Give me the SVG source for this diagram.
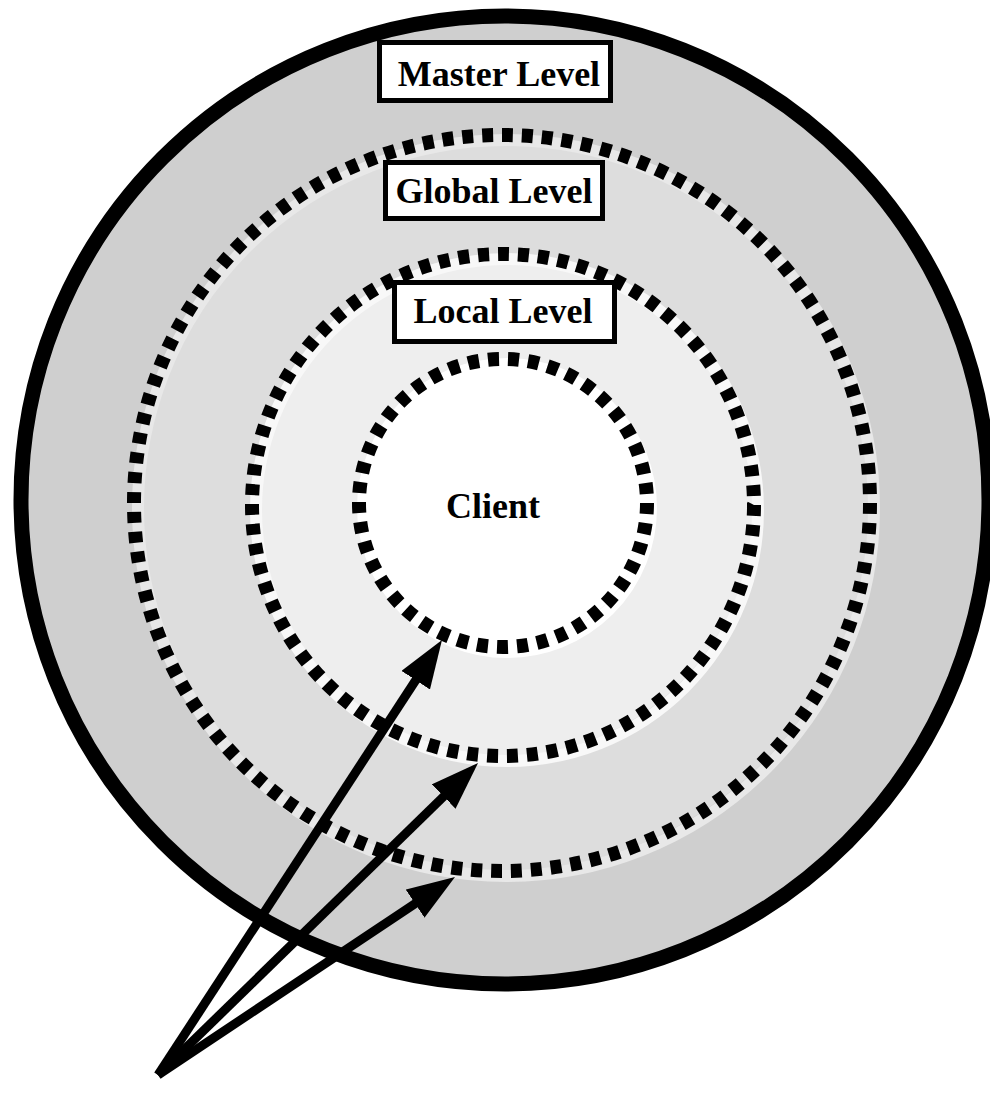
<svg xmlns="http://www.w3.org/2000/svg" width="990" height="1093" viewBox="0 0 990 1093">
<style>
.lbl{font-family:"Liberation Serif","Times New Roman",serif;font-weight:bold;font-size:36px;fill:#000;text-anchor:middle}
.box{fill:#fff;stroke:#000;stroke-width:5}
.dash{fill:none;stroke:#000;stroke-width:14;stroke-dasharray:11 9}
.ring{fill:none;stroke-width:12}
.arrow{stroke:#000;stroke-width:9;fill:none;marker-end:url(#ah)}
</style>
<defs>
<marker id="ah" markerUnits="userSpaceOnUse" markerWidth="48" markerHeight="34" viewBox="0 0 48 34" refX="8" refY="17" orient="auto">
<path d="M0,0 L48,17 L0,34 z" fill="#000"/>
</marker>
</defs>
<rect width="990" height="1093" fill="#fff"/>
<g id="master">
<circle cx="505" cy="500" r="484" fill="#cfcfcf" stroke="#000" stroke-width="15"/>
</g>
<g id="global">
<circle cx="502" cy="503" r="368" fill="#dddddd"/>
<circle class="ring" cx="506" cy="508" r="368" stroke="#e8e8e8"/>
<circle class="dash" cx="502" cy="503" r="368" pathLength="2320"/>
</g>
<g id="local">
<circle cx="503" cy="505" r="251" fill="#eeeeee"/>
<circle class="ring" cx="507" cy="510" r="251" stroke="#f8f8f8"/>
<circle class="dash" cx="503" cy="505" r="251" pathLength="1580"/>
</g>
<g id="client">
<circle cx="503" cy="503" r="144" fill="#ffffff"/>
<circle class="ring" cx="507" cy="508" r="144" stroke="#ffffff"/>
<circle class="dash" cx="503" cy="503" r="144" pathLength="900"/>
<text class="lbl" x="493" y="518">Client</text>
</g>
<g id="master-label">
<rect class="box" x="379.5" y="42.5" width="231" height="58"/>
<text class="lbl" x="499" y="86">Master Level</text>
</g>
<g id="global-label">
<rect class="box" x="385.5" y="162.5" width="217" height="56"/>
<text class="lbl" x="494" y="203">Global Level</text>
</g>
<g id="local-label">
<rect class="box" x="394.5" y="282.5" width="220" height="59"/>
<text class="lbl" x="503" y="323">Local Level</text>
</g>
<g id="connectors">
<line class="arrow" x1="158" y1="1075" x2="420.1" y2="673.5"/>
<line class="arrow" x1="158" y1="1075" x2="449.4" y2="790.9"/>
<line class="arrow" x1="158" y1="1075" x2="421.7" y2="899.2"/>
</g>
</svg>
